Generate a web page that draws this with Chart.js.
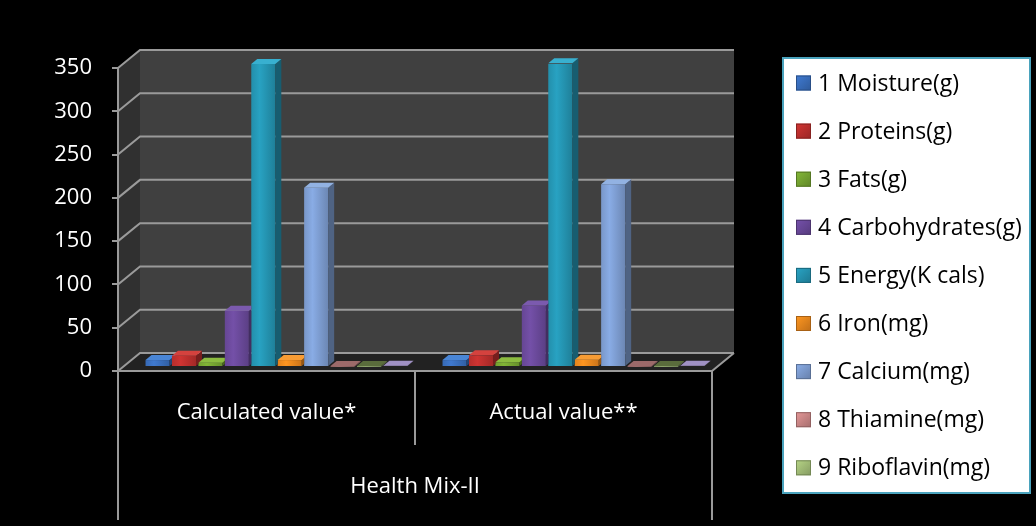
<!DOCTYPE html>
<html>
<head>
<meta charset="utf-8">
<title>Health Mix-II</title>
<script src="https://cdn.jsdelivr.net/npm/chart.js@4.4.1/dist/chart.umd.min.js"></script>
<style>
  html, body { margin: 0; padding: 0; background: #000; }
  #wrap { width: 1036px; height: 526px; position: relative; }
  canvas { display: block; }
</style>
</head>
<body>
<div id="wrap"><canvas id="chart" width="1036" height="526"></canvas></div>
<script>
// ---- data ----
const categories = ['Calculated value*', 'Actual value**'];
const groupLabel = 'Health Mix-II';
const yTickValues = [0, 50, 100, 150, 200, 250, 300, 350];

const seriesNames = [
  '1 Moisture(g)', '2 Proteins(g)', '3 Fats(g)', '4 Carbohydrates(g)',
  '5 Energy(K cals)', '6 Iron(mg)', '7 Calcium(mg)', '8 Thiamine(mg)',
  '9 Riboflavin(mg)', '10 Niacin(mg)'
];
const moisture      = [8, 8];
const proteins      = [13, 13.5];
const fats          = [5, 5.5];
const carbohydrates = [65, 71];
const energy        = [350, 351];
const iron          = [8, 8.5];
const calcium       = [207, 211];
const thiamine      = [0.4, 0.4];
const riboflavin    = [0.3, 0.3];
const niacin        = [1.5, 1.5];
const seriesValues = [moisture, proteins, fats, carbohydrates, energy, iron, calcium, thiamine, riboflavin, niacin];

// ---- styles ----
const frontColors = ['#3a70c0', '#c0302e', '#78a832', '#6b4a9c', '#2596b4', '#f08a1e', '#7f9fd4', '#d08a8a', '#a6c27a', '#b3a2c7'];
const topColors   = ['#4a86d6', '#d4423e', '#8cbc40', '#7b5aae', '#38b0d0', '#f89c34', '#92b2e2', '#9c6a6a', '#5a6c3c', '#a091c4'];
const legendCount = 9;
const FONT = '"Open Sans", "Noto Sans", sans-serif';
const GRID = '#9a9a9a';
const WALL = { dx: 22, dy: 18 };     // back wall offset of the 3D frame
const SHIFT = { dx: 10, dy: -4 };    // bar row sits mid-depth
const DEPTH = { dx: 6, dy: 5 };      // bar side/top face depth

function shade(hex, f) {
  const n = parseInt(hex.slice(1), 16);
  const c = v => Math.max(0, Math.min(255, Math.round(v * f)));
  return 'rgb(' + c((n >> 16) & 255) + ',' + c((n >> 8) & 255) + ',' + c(n & 255) + ')';
}

function poly(ctx, pts, fill) {
  ctx.beginPath();
  ctx.moveTo(pts[0][0], pts[0][1]);
  for (let k = 1; k < pts.length; k++) ctx.lineTo(pts[k][0], pts[k][1]);
  ctx.closePath();
  ctx.fillStyle = fill;
  ctx.fill();
}

// front face: soft horizontal shading across each bar
function barFill(context) {
  const base = frontColors[context.datasetIndex];
  const el = context.element;
  if (!el || typeof el.x !== 'number' || !el.width) return base;
  const g = context.chart.ctx.createLinearGradient(el.x - el.width / 2, 0, el.x + el.width / 2, 0);
  g.addColorStop(0, shade(base, 0.95));
  g.addColorStop(0.35, shade(base, 1.08));
  g.addColorStop(1, shade(base, 0.85));
  return g;
}

// 3D frame: walls, floor and perspective gridlines
const framePlugin = {
  id: 'frame3d',
  beforeDraw(chart) {
    const { ctx, chartArea: a, scales: { y } } = chart;
    ctx.save();
    ctx.fillStyle = '#000';
    ctx.fillRect(0, 0, chart.width, chart.height);
    // back wall
    ctx.fillStyle = '#404040';
    ctx.fillRect(a.left + WALL.dx, a.top - WALL.dy, a.right - a.left, a.bottom - a.top);
    // side wall
    poly(ctx, [[a.left, a.top], [a.left + WALL.dx, a.top - WALL.dy], [a.left + WALL.dx, a.bottom - WALL.dy], [a.left, a.bottom]], '#303030');
    // floor
    poly(ctx, [[a.left, a.bottom], [a.left + WALL.dx, a.bottom - WALL.dy], [a.right + WALL.dx, a.bottom - WALL.dy], [a.right, a.bottom]], '#222222');
    // gridlines
    ctx.strokeStyle = GRID;
    ctx.lineWidth = 2;
    yTickValues.forEach(v => {
      const py = y.getPixelForValue(v);
      ctx.beginPath();
      ctx.moveTo(a.left, py);
      ctx.lineTo(a.left + WALL.dx, py - WALL.dy);
      ctx.lineTo(a.right + WALL.dx, py - WALL.dy);
      ctx.stroke();
    });
    // front edge of the floor
    ctx.beginPath();
    ctx.moveTo(a.left - 6, a.bottom);
    ctx.lineTo(a.right, a.bottom);
    ctx.lineTo(a.right + WALL.dx, a.bottom - WALL.dy);
    ctx.stroke();
    ctx.restore();
  },
  beforeDatasetsDraw(chart) {
    chart.ctx.save();
    chart.ctx.translate(SHIFT.dx, SHIFT.dy);
  },
  afterDatasetsDraw(chart) {
    const ctx = chart.ctx;
    const n = chart.data.datasets.length;
    categories.forEach((_, j) => {
      const bars = [];
      for (let i = 0; i < n; i++) {
        bars.push(chart.getDatasetMeta(i).data[j].getProps(['x', 'y', 'base', 'width'], true));
      }
      bars.forEach((b, i) => {
        const xl = b.x - b.width / 2, xr = b.x + b.width / 2;
        const top = Math.min(b.y, b.base), bottom = Math.max(b.y, b.base);
        ctx.save();
        const nb = bars[i + 1];
        if (nb) {
          const nl = nb.x - nb.width / 2;
          const nTop = Math.min(nb.y, nb.base);
          ctx.beginPath();
          ctx.rect(-2000, -2000, nl + 2000, 5000);
          ctx.rect(nl, -2000, 3000, nTop + 2000);
          ctx.clip();
        }
        poly(ctx, [[xr, top], [xr + DEPTH.dx, top - DEPTH.dy], [xr + DEPTH.dx, bottom - DEPTH.dy], [xr, bottom]], shade(frontColors[i], 0.62));
        poly(ctx, [[xl, top], [xl + DEPTH.dx, top - DEPTH.dy], [xr + DEPTH.dx, top - DEPTH.dy], [xr, top]], topColors[i]);
        ctx.restore();
      });
    });
    ctx.restore();
  },
  afterDraw(chart) {
    const { ctx, chartArea: a } = chart;
    ctx.save();
    // category separators
    ctx.strokeStyle = GRID;
    ctx.lineWidth = 2;
    const w = (a.right - a.left) / categories.length;
    for (let k = 0; k <= categories.length; k++) {
      const px = Math.round(a.left + k * w);
      const outer = k === 0 || k === categories.length;
      ctx.beginPath();
      ctx.moveTo(px, a.bottom);
      ctx.lineTo(px, outer ? chart.height - 6 : a.bottom + 74);
      ctx.stroke();
    }
    // group label
    ctx.fillStyle = '#ffffff';
    ctx.font = '22px ' + FONT;
    ctx.textAlign = 'center';
    ctx.textBaseline = 'middle';
    ctx.fillText(groupLabel, (a.left + a.right) / 2, 487);

    // legend box
    const lx = 783, ly = 58, lw = 247, lh = 435;
    ctx.fillStyle = '#ffffff';
    ctx.fillRect(lx, ly, lw, lh);
    ctx.strokeStyle = '#4aa3bd';
    ctx.lineWidth = 2;
    ctx.strokeRect(lx, ly, lw, lh);
    ctx.font = '23px ' + FONT;
    ctx.textAlign = 'left';
    chart.data.datasets.slice(0, legendCount).forEach((ds, i) => {
      const cy = 83 + i * 48.1;
      const g = ctx.createLinearGradient(796, cy - 7.5, 811, cy + 7.5);
      g.addColorStop(0, shade(frontColors[i], 1.1));
      g.addColorStop(1, shade(frontColors[i], 0.8));
      ctx.fillStyle = g;
      ctx.fillRect(796, cy - 7.5, 15, 15);
      ctx.strokeStyle = shade(frontColors[i], 0.7);
      ctx.lineWidth = 1;
      ctx.strokeRect(796.5, cy - 7, 14, 14);
      ctx.fillStyle = '#000000';
      ctx.fillText(ds.label, 818, cy + 1);
    });
    ctx.restore();
  }
};

function build() {
  const datasets = seriesNames.map((name, i) => ({
    label: name,
    data: seriesValues[i],
    backgroundColor: barFill,
    borderWidth: 0,
    categoryPercentage: 0.89,
    barPercentage: 0.91
  }));

  const chart = new Chart(document.getElementById('chart'), {
    type: 'bar',
    data: { labels: categories, datasets },
    plugins: [framePlugin],
    options: {
      responsive: false,
      animation: false,
      devicePixelRatio: 1,
      layout: { padding: { left: 0, right: 324, top: 68, bottom: 0 } },
      plugins: { legend: { display: false }, tooltip: { enabled: false } },
      scales: {
        x: {
          grid: { display: false, drawTicks: false },
          border: { display: false },
          ticks: { color: '#ffffff', font: { family: FONT, size: 22 }, padding: 29, maxRotation: 0 },
          afterFit: s => { s.height = 155; }
        },
        y: {
          min: 0,
          max: 350,
          afterBuildTicks: s => { s.ticks = yTickValues.map(v => ({ value: v })); },
          grid: { drawOnChartArea: false, tickLength: 6, color: GRID, lineWidth: 2 },
          border: { color: GRID, width: 2 },
          ticks: { color: '#ffffff', font: { family: FONT, size: 22 }, padding: 20 },
          afterFit: s => { s.width = 118; }
        }
      }
    }
  });
  // second pass so the shading can use the laid-out bar geometry
  chart.update('none');
}

if (document.fonts && document.fonts.load) {
  Promise.all([document.fonts.load('22px "Open Sans"'), document.fonts.load('23px "Open Sans"')]).then(build, build);
} else {
  build();
}
</script>
</body>
</html>
